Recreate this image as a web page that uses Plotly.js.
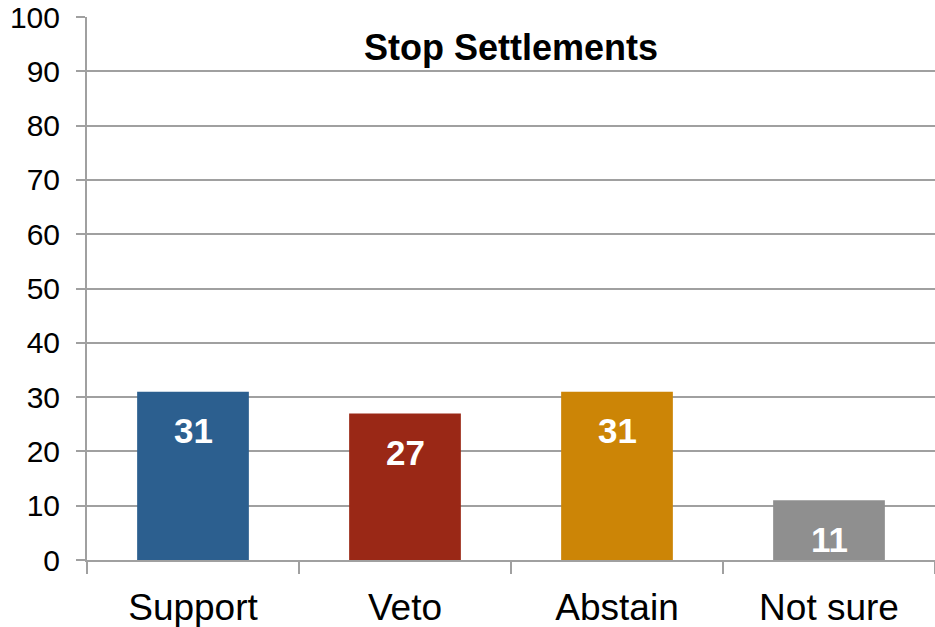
<!DOCTYPE html>
<html>
<head>
<meta charset="utf-8">
<script src="https://cdn.plot.ly/plotly-3.0.1.min.js"></script>
<style>html,body{margin:0;padding:0;background:#fff;}#chart{width:935px;height:627px;}</style>
</head>
<body>
<div id="chart"></div>
<script>
const categories = ["Support", "Veto", "Abstain", "Not sure"];
const values = [31, 27, 31, 11];
const barColors = ["#2C5F8F", "#9A2816", "#CC8506", "#8F8F8F"];
const chartTitle = "Stop Settlements";
const yTicks = [0, 10, 20, 30, 40, 50, 60, 70, 80, 90, 100];

const trace = {
  type: "bar",
  x: categories,
  y: values,
  marker: {color: barColors, line: {width: 0}},
  hoverinfo: "none"
};

const annotations = categories.map((c, i) => ({
  x: c, y: values[i], xref: "x", yref: "y",
  text: "<b>" + values[i] + "</b>",
  showarrow: false,
  yshift: -39,
  font: {family: "Liberation Sans, Arial, sans-serif", size: 35, color: "#ffffff"}
}));

const layout = {
  width: 935, height: 627,
  margin: {l: 87, r: 0, t: 17, b: 67},
  paper_bgcolor: "#ffffff",
  plot_bgcolor: "#ffffff",
  bargap: 0.473,
  showlegend: false,
  title: {
    text: "<b>" + chartTitle + "</b>",
    x: 0.5, xanchor: "center", xref: "paper",
    y: 1 - 47/627, yanchor: "middle", yref: "container",
    font: {family: "Liberation Sans, Arial, sans-serif", size: 36, color: "#000000"}
  },
  xaxis: {
    type: "category",
    tickson: "boundaries",
    ticks: "outside", ticklen: 12, tickwidth: 2, tickcolor: "#A0A0A0",
    showline: true, linecolor: "#A0A0A0", linewidth: 2,
    showgrid: false, zeroline: false,
    ticklabelstandoff: 14,
    tickfont: {family: "Liberation Sans, Arial, sans-serif", size: 37, color: "#000000"},
    fixedrange: true
  },
  yaxis: {
    range: [0, 100],
    tickvals: yTicks,
    ticktext: yTicks.map(String),
    ticks: "outside", ticklen: 9, tickwidth: 2, tickcolor: "#A0A0A0",
    showline: true, linecolor: "#A0A0A0", linewidth: 2,
    showgrid: true, gridcolor: "#A0A0A0", gridwidth: 2,
    zeroline: false,
    ticklabelstandoff: 10,
    tickfont: {family: "Liberation Sans, Arial, sans-serif", size: 30, color: "#000000"},
    fixedrange: true
  },
  annotations: annotations
};

Plotly.newPlot("chart", [trace], layout, {displayModeBar: false, staticPlot: true});
</script>
</body>
</html>
